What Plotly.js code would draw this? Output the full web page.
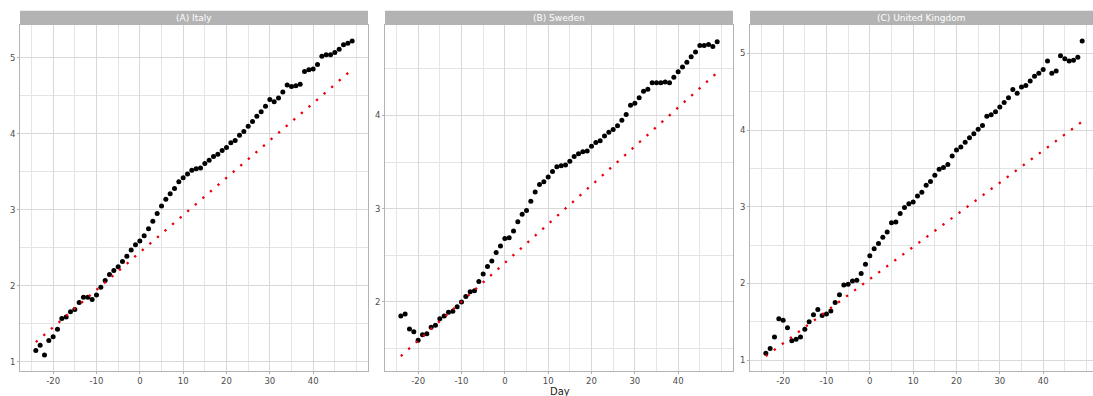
<!DOCTYPE html>
<html>
<head>
<meta charset="utf-8">
<script src="https://cdn.plot.ly/plotly-3.0.1.min.js"></script>
<style>html,body{margin:0;padding:0;background:#fff;}#chart{width:1093px;height:396px;}</style>
</head>
<body>
<div id="chart"></div>
<script>
// ---- data ----
const days = [-24,-23,-22,-21,-20,-19,-18,-17,-16,-15,-14,-13,-12,-11,-10,-9,-8,-7,-6,-5,-4,-3,-2,-1,0,1,2,3,4,5,6,7,8,9,10,11,12,13,14,15,16,17,18,19,20,21,22,23,24,25,26,27,28,29,30,31,32,33,34,35,36,37,38,39,40,41,42,43,44,45,46,47,48,49];

const italy = [1.15,1.22,1.09,1.28,1.33,1.43,1.57,1.59,1.66,1.69,1.78,1.85,1.85,1.82,1.88,1.98,2.07,2.15,2.20,2.25,2.32,2.39,2.47,2.54,2.59,2.66,2.75,2.85,2.95,3.05,3.14,3.21,3.28,3.37,3.42,3.47,3.52,3.54,3.55,3.61,3.65,3.70,3.73,3.78,3.82,3.88,3.91,3.98,4.03,4.10,4.16,4.23,4.29,4.36,4.45,4.42,4.47,4.55,4.64,4.62,4.63,4.65,4.82,4.84,4.85,4.91,5.02,5.04,5.04,5.07,5.11,5.17,5.19,5.22];

const sweden = [1.85,1.87,1.71,1.68,1.59,1.65,1.66,1.73,1.75,1.82,1.85,1.89,1.90,1.95,2.00,2.06,2.11,2.12,2.22,2.30,2.38,2.44,2.53,2.60,2.68,2.69,2.76,2.86,2.94,2.98,3.08,3.18,3.26,3.29,3.34,3.40,3.45,3.46,3.47,3.51,3.56,3.59,3.61,3.62,3.67,3.71,3.73,3.78,3.82,3.85,3.89,3.95,4.01,4.11,4.13,4.19,4.26,4.28,4.35,4.35,4.35,4.36,4.35,4.41,4.47,4.52,4.57,4.63,4.68,4.75,4.75,4.76,4.74,4.79];

const uk = [1.09,1.15,1.30,1.54,1.52,1.42,1.25,1.27,1.30,1.40,1.50,1.59,1.66,1.58,1.60,1.64,1.75,1.85,1.98,1.99,2.03,2.04,2.13,2.25,2.36,2.45,2.52,2.60,2.67,2.79,2.80,2.91,2.99,3.04,3.06,3.14,3.19,3.28,3.33,3.41,3.49,3.51,3.55,3.66,3.74,3.78,3.84,3.90,3.95,4.01,4.06,4.18,4.20,4.24,4.30,4.36,4.42,4.53,4.48,4.56,4.58,4.64,4.70,4.74,4.79,4.90,4.74,4.77,4.97,4.93,4.90,4.91,4.95,5.16];

// fitted (red dotted) lines: values at first and last day
const fitDays = [-24, 49];
const fitItaly = [1.26, 4.845];
const fitSweden = [1.42, 4.46];
const fitUK = [1.05, 4.11];

const panelTitles = ["(A) Italy", "(B) Sweden", "(C) United Kingdom"];
const xTickVals = [-20,-10,0,10,20,30,40];
const xTickText = ["-20","-10","0","10","20","30","40"];
const xMinorVals = [-25,-15,-5,5,15,25,35,45,50];

// ---- layout ----
const W = 1093, H = 396;
const px = v => v / W;
const py = v => 1 - v / H;
const plotTop = 25, plotBottom = 371, stripTop = 10.7;
const panels = [[20,368],[385,733],[750,1093]];
const xRanges = [[-27.65,52.65],[-27.65,52.65],[-27.65,51.5]];
const yRanges = [[0.88,5.43],[1.26,4.97],[0.857,5.37]];
const seriesList = [italy, sweden, uk];
const fitList = [fitItaly, fitSweden, fitUK];

const font = "DejaVu Sans, sans-serif";
const traces = [];
const layout = {
  width: W, height: H,
  margin: {l:0, r:0, t:0, b:0},
  paper_bgcolor: "#ffffff", plot_bgcolor: "#ffffff",
  showlegend: false,
  font: {family: font, size: 9, color: "#4d4d4d"},
  shapes: [], annotations: []
};

for (let i = 0; i < 3; i++) {
  const sfx = i === 0 ? "" : String(i + 1);
  traces.push({
    type: "scatter", mode: "markers", x: days, y: seriesList[i],
    xaxis: "x" + sfx, yaxis: "y" + sfx,
    marker: {color: "#000000", size: 5}, hoverinfo: "x+y"
  });
  traces.push({
    type: "scatter", mode: "lines", x: fitDays, y: fitList[i],
    xaxis: "x" + sfx, yaxis: "y" + sfx,
    line: {color: "#e8000b", width: 2.3, dash: "2.3px,7.7px"}, hoverinfo: "skip"
  });
  const common = {
    showline: true, mirror: true, linecolor: "#b3b3b3", linewidth: 1,
    ticks: "outside", ticklen: 2, tickcolor: "#b3b3b3", tickwidth: 1,
    gridcolor: "#d9d9d9", gridwidth: 1, zeroline: false,
    tickfont: {family: font, size: 8.5, color: "#4d4d4d"}
  };
  layout["xaxis" + sfx] = Object.assign({}, common, {
    domain: [px(panels[i][0]), px(panels[i][1])],
    range: xRanges[i], anchor: "y" + sfx,
    tickmode: "array", tickvals: xTickVals, ticktext: xTickText,
    minor: {tickmode: "array", tickvals: xMinorVals, showgrid: true, gridcolor: "#e4e4e4", gridwidth: 1, ticks: ""}
  });
  layout["yaxis" + sfx] = Object.assign({}, common, {
    domain: [py(plotBottom), py(plotTop)],
    range: yRanges[i], anchor: "x" + sfx,
    tickmode: "linear", tick0: 0, dtick: 1,
    minor: {tick0: 0.5, dtick: 0.5, showgrid: true, gridcolor: "#e4e4e4", gridwidth: 1, ticks: ""}
  });
  layout.shapes.push({
    type: "rect", xref: "paper", yref: "paper",
    x0: px(panels[i][0]), x1: px(panels[i][1]), y0: py(plotTop), y1: py(stripTop),
    fillcolor: "#b3b3b3", line: {width: 0}
  });
  layout.annotations.push({
    xref: "paper", yref: "paper",
    x: (px(panels[i][0]) + px(panels[i][1])) / 2, y: (py(plotTop) + py(stripTop)) / 2,
    xanchor: "center", yanchor: "middle", showarrow: false,
    text: panelTitles[i], font: {family: font, size: 9, color: "#ffffff"}
  });
}
layout.annotations.push({
  xref: "paper", yref: "paper", x: px(560), y: py(397.5),
  xanchor: "center", yanchor: "bottom", showarrow: false, borderpad: 0,
  text: "Day", font: {family: font, size: 10, color: "#1a1a1a"}
});

Plotly.newPlot("chart", traces, layout, {displayModeBar: false, staticPlot: true});
</script>
</body>
</html>
